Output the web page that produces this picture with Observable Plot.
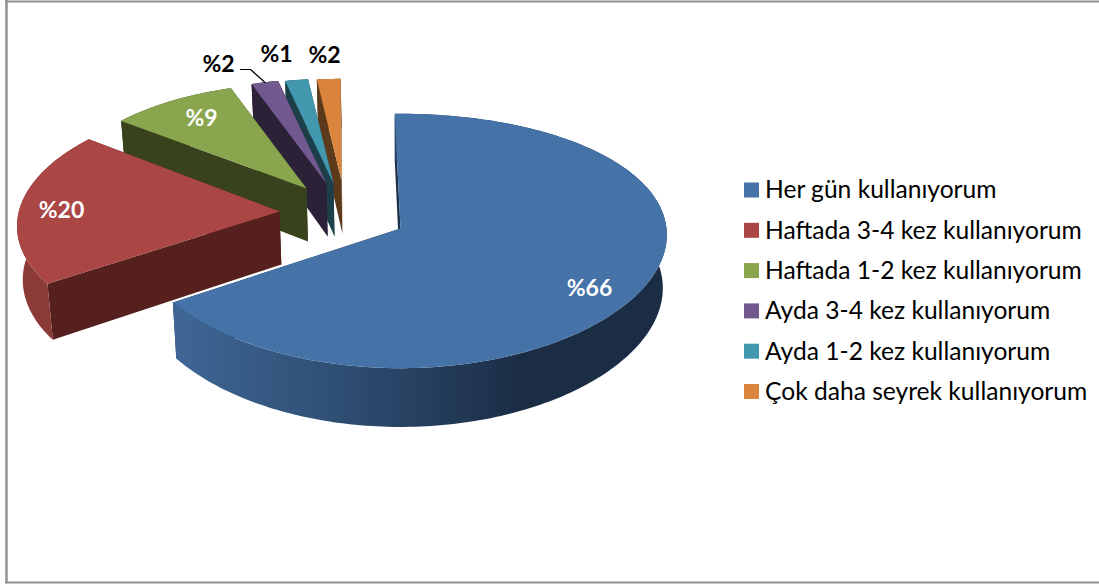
<!DOCTYPE html>
<html lang="tr">
<head>
<meta charset="utf-8">
<script src="https://cdn.jsdelivr.net/npm/d3@7"></script>
<script src="https://cdn.jsdelivr.net/npm/@observablehq/plot@0.6"></script>
<style>
html,body{margin:0;padding:0;background:#fff;overflow:hidden}
svg{display:block}
</style>
</head>
<body>
<div id="chart"></div>
<script>
// Data
const categories = ["Her gün kullanıyorum","Haftada 3-4 kez kullanıyorum","Haftada 1-2 kez kullanıyorum","Ayda 3-4 kez kullanıyorum","Ayda 1-2 kez kullanıyorum","Çok daha seyrek kullanıyorum"];
const values = [66, 20, 9.1, 1.9, 1.6, 1.7];
const labels = ["%66","%20","%9","%2","%1","%2"];

// Styles
const faceColors = ["#4572A7","#AA4643","#89A54E","#71588F","#4198AF","#DB843D"];
const wallColors = ["#1d3049","#55201d","#38421c","#2c2238","#1c3f4a","#5c3a1a"];
const outerColors = ["url(#blueWall)","#8c3a37","#38421c","#2c2238","#1c3f4a","#5c3a1a"];
const labelColors = ["#fff","#fff","#fff","#000","#000","#000"];

// Layout of the exploded 3-D pie
const apexX = [400, 279, 306, 326, 333, 341];
const apexY = [228, 211, 188, 183, 183, 180];
const radii = [1, 0.98, 0.913, 0.905, 0.905, 0.876];
const perspX = [0.05, 0.12, 0.05, 0.05, 0.05, 0.05];
const labelX = [589, 61, 201, 218, 276, 324];
const labelY = [288, 210, 118, 64, 54, 55];
const RX = 266, RY = 126, PERSP_Y = 0.098, DEPTH = 53, VANISH = 400, START = -1.3 * Math.PI / 180;

const total = 100;
const bounds = [];
values.reduce((acc, v) => {
  const a0 = acc, a1 = acc + v;
  bounds.push([START + a0 / total * 2 * Math.PI, START + a1 / total * 2 * Math.PI]);
  return a1;
}, 0);

function topPt(i, t, r) {
  const u = r * Math.sin(t), v = r * Math.cos(t), s = 1 / (1 + PERSP_Y * v), sx = 1 / (1 + perspX[i] * v);
  return {x: apexX[i] + RX * u * sx, y: apexY[i] - RY * v * s, s};
}
function lowPt(p) {
  return {x: p.x + (VANISH - p.x) * 0.015, y: p.y + DEPTH * p.s};
}
function arcPts(i) {
  const [t0, t1] = bounds[i];
  const n = Math.max(4, Math.ceil((t1 - t0) / 0.02));
  return d3.range(n + 1).map(k => topPt(i, t0 + (t1 - t0) * k / n, radii[i]));
}
const poly = (pts, fill) => Plot.line(pts, {x: "x", y: "y", fill, stroke: "none", curve: "linear-closed"});

const sliceMarks = [];
for (let i = values.length - 1; i >= 0; i--) {
  const a = arcPts(i), c = topPt(i, 0, 0);
  const first = a[0], last = a[a.length - 1];
  sliceMarks.push(poly([c, first, lowPt(first), lowPt(c)], wallColors[i]));
  sliceMarks.push(poly([c, last, lowPt(last), lowPt(c)], wallColors[i]));
  sliceMarks.push(poly([...a, ...a.map(lowPt).reverse()], outerColors[i]));
  sliceMarks.push(poly([c, ...a], faceColors[i]));
}

// Legend layout
const legendY = categories.map((_, i) => 190 + i * 40.3);
const legendRows = categories.map((name, i) => ({name, y: legendY[i], color: faceColors[i]}));

// Leader for the purple slice's label
const purpleMid = topPt(3, (bounds[3][0] + bounds[3][1]) / 2, radii[3]);
const leader = [{x: 240, y: 69}, {x: 250, y: 69}, purpleMid];

const labelRows = labels.map((t, i) => ({t, x: labelX[i], y: labelY[i], color: labelColors[i]}));

const chart = Plot.plot({
  width: 1099, height: 586,
  marginTop: 0, marginRight: 0, marginBottom: 0, marginLeft: 0,
  x: {domain: [0, 1099], range: [0, 1099], axis: null},
  y: {domain: [0, 586], range: [0, 586], axis: null},
  color: {type: "identity"},
  style: {background: "#fff"},
  marks: [
    Plot.ruleX([6], {y1: 0, y2: 583, stroke: "#8f8f8f", strokeWidth: 2.4}),
    Plot.ruleY([1], {x1: 5, x2: 1099, stroke: "#8f8f8f", strokeWidth: 2}),
    Plot.ruleY([582], {x1: 5, x2: 1099, stroke: "#8f8f8f", strokeWidth: 2}),
    ...sliceMarks,
    Plot.line(leader, {x: "x", y: "y", stroke: "#000", strokeWidth: 1.2, curve: "linear"}),
    Plot.text(labelRows, {x: "x", y: "y", text: "t", fill: "color", fontFamily: "Lato", fontWeight: 700, fontSize: 23, textAnchor: "middle"}),
    Plot.rect(legendRows, {x1: () => 744, x2: () => 759, y1: d => d.y - 7.5, y2: d => d.y + 7.5, fill: "color"}),
    Plot.text(legendRows, {x: () => 764.5, y: d => d.y, text: "name", textAnchor: "start", fill: "#000", fontFamily: "Lato", fontSize: 24.6})
  ]
});

const defs = d3.select(chart).insert("defs", ":first-child");
const grad = defs.append("linearGradient").attr("id", "blueWall").attr("gradientUnits", "userSpaceOnUse")
  .attr("x1", 172).attr("x2", 520).attr("y1", 0).attr("y2", 0);
[[0, "#3f6796"], [0.55, "#2c4a6e"], [1, "#1b2d45"]].forEach(([o, c]) =>
  grad.append("stop").attr("offset", o).attr("stop-color", c));

document.getElementById("chart").appendChild(chart);
</script>
</body>
</html>
